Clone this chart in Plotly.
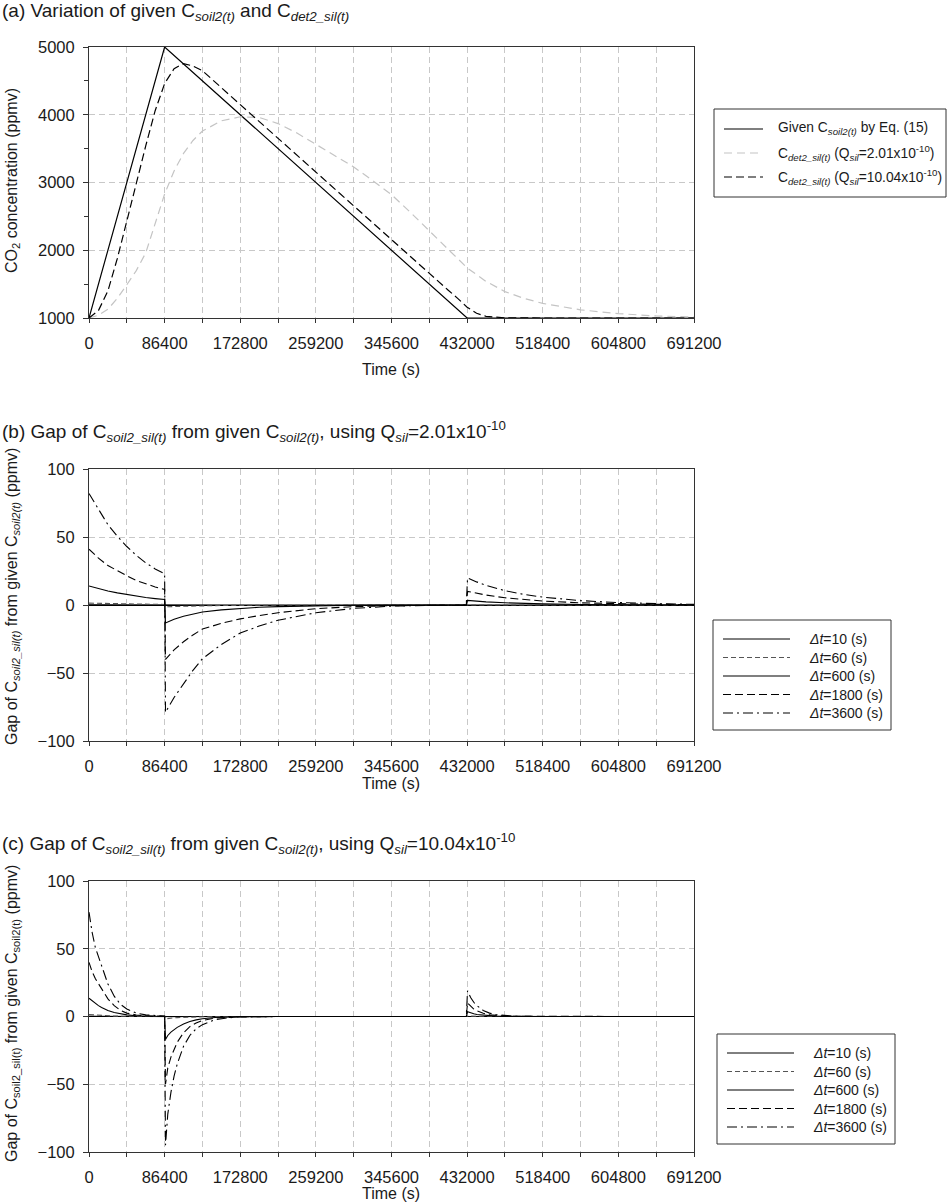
import plotly.graph_objects as go

# ---------------- data ----------------
X_TICKS = [0, 86400, 172800, 259200, 345600, 432000, 518400, 604800, 691200]

# (a) concentrations (ppmv)
T_GIVEN = [0, 86400, 432000, 691200]
C_GIVEN = [1000, 5000, 1000, 1000]

T_Q201 = [0, 10800, 21600, 32400, 43200, 54000, 64800, 75600, 86400, 97200,
          108000, 118800, 129600, 151200, 172800, 194400, 216000, 237600, 259200, 280800,
          302400, 324000, 345600, 367200, 388800, 410400, 432000, 453600, 475200,
          496800, 518400, 561600, 604800, 648000, 691200]
C_Q201 = [1000, 1040, 1130, 1290, 1490, 1700, 1960, 2400, 2830, 3170,
          3430, 3620, 3760, 3910, 3970, 3960, 3870, 3730, 3560, 3400,
          3230, 3030, 2820, 2560, 2290, 2010, 1740, 1540, 1390,
          1290, 1215, 1120, 1065, 1030, 1015]

T_Q1004 = [0, 10800, 21600, 32400, 43200, 54000, 64800, 75600, 86400, 97200,
           108000, 118800, 129600, 172800, 259200, 345600, 388800, 410400, 421200, 432000,
           442800, 453600, 475200, 518400, 691200]
C_Q1004 = [1000, 1110, 1400, 1880, 2430, 2990, 3540, 4060, 4460, 4680,
           4755, 4720, 4650, 4150, 3150, 2150, 1650, 1410, 1290, 1160,
           1070, 1025, 1003, 1000, 1000]

# (b) gap, Q_sil = 2.01e-10
T_B = [0, 10800, 21600, 32400, 43200, 54000, 64800, 75600, 86400,
       87400, 97200, 108000, 118800, 129600, 151200, 172800, 194400, 216000,
       259200, 302400, 345600, 388800, 431000,
       432500, 442800, 453600, 475200, 496800, 518400, 561600, 604800, 648000, 691200]
B_10 = [0.23, 0.2, 0.17, 0.15, 0.13, 0.11, 0.09, 0.08, 0.07,
        -0.23, -0.18, -0.14, -0.11, -0.09, -0.06, -0.04, -0.03, -0.02,
        -0.01, 0, 0, 0, 0,
        0.06, 0.05, 0.04, 0.03, 0.02, 0.01, 0.01, 0, 0, 0]
B_60 = [1.4, 1.2, 1.03, 0.89, 0.76, 0.65, 0.55, 0.47, 0.4,
        -1.4, -1.1, -0.85, -0.67, -0.53, -0.36, -0.25, -0.17, -0.12,
        -0.05, -0.02, -0.01, 0, 0,
        0.35, 0.28, 0.23, 0.16, 0.11, 0.08, 0.04, 0.02, 0.01, 0]
B_600 = [14, 12, 10.3, 8.9, 7.6, 6.5, 5.5, 4.7, 4,
         -13.2, -10.5, -8.3, -6.6, -5.2, -3.6, -2.5, -1.7, -1.2,
         -0.5, -0.2, -0.1, 0, 0,
         3.4, 2.8, 2.3, 1.6, 1.1, 0.8, 0.4, 0.2, 0.1, 0.05]
B_1800 = [41, 34.5, 29, 25, 21.5, 18, 15.5, 13.3, 11.5,
          -40, -33, -27, -22, -17.7, -13.5, -10.2, -7.8, -5.7,
          -2.7, -1.2, -0.5, -0.2, -0.1,
          10, 8.5, 7.3, 5.3, 3.9, 2.9, 1.6, 0.9, 0.5, 0.25]
B_3600 = [82, 70, 59, 50.5, 43, 36.5, 31, 26.5, 23,
          -79, -68, -58, -48, -39.5, -29, -20.6, -15.5, -11.2,
          -5.7, -2.5, -0.8, -0.3, -0.1,
          20, 17, 14.5, 10.5, 7.8, 5.8, 3.2, 1.8, 1.0, 0.5]

# (c) gap, Q_sil = 10.04e-10
T_C = [0, 3600, 7200, 10800, 14400, 21600, 28800, 36000, 43200, 54000, 64800, 75600, 86400,
       87400, 90000, 93600, 97200, 100800, 108000, 115200, 122400, 129600, 144000, 158400,
       172800, 216000, 431000,
       432500, 436000, 439600, 443200, 450400, 457600, 464800, 475200, 486000, 518400, 691200]
C_10 = [0.23, 0.2, 0.17, 0.14, 0.12, 0.08, 0.05, 0.03, 0.02, 0.01, 0, 0, 0,
        -0.3, -0.24, -0.2, -0.16, -0.13, -0.09, -0.06, -0.04, -0.03, -0.01, 0,
        0, 0, 0,
        0.06, 0.05, 0.04, 0.03, 0.02, 0.01, 0, 0, 0, 0, 0]
C_60 = [1.4, 1.2, 1, 0.85, 0.7, 0.46, 0.3, 0.2, 0.12, 0.06, 0.03, 0.01, 0,
        -1.7, -1.4, -1.15, -0.95, -0.8, -0.55, -0.37, -0.25, -0.17, -0.07, -0.03,
        -0.01, 0, 0,
        0.35, 0.26, 0.2, 0.15, 0.09, 0.05, 0.03, 0.01, 0, 0, 0]
C_600 = [13.5, 11.5, 9.8, 8, 6.7, 4.4, 2.9, 1.9, 1.2, 0.6, 0.3, 0.1, 0.05,
         -17, -14, -11.5, -9.5, -8, -5.5, -3.7, -2.5, -1.7, -0.7, -0.3,
         -0.1, 0, 0,
         3.5, 2.6, 2, 1.5, 0.9, 0.5, 0.25, 0.1, 0, 0, 0]
C_1800 = [40, 33, 28, 24, 20, 13, 8, 4.5, 2.5, 1.1, 0.5, 0.2, 0.1,
          -50, -38, -30, -24, -19, -12, -7.5, -4.8, -3, -1.2, -0.5,
          -0.2, 0, 0,
          10, 7.5, 5.5, 4.2, 2.4, 1.3, 0.7, 0.3, 0.1, 0, 0]
C_3600 = [77, 62, 51, 44, 37, 24, 15, 9, 5.5, 2.5, 1.2, 0.5, 0.3,
          -95, -72, -56, -44, -35, -22, -14, -9, -6, -2.4, -1,
          -0.4, 0, 0,
          19, 14, 10.5, 8, 4.5, 2.5, 1.4, 0.6, 0.2, 0, 0]

DT_LABELS = ["10", "60", "600", "1800", "3600"]

# ---------------- styling ----------------
W, H = 949, 1204
FONT = "Liberation Sans, Arial, sans-serif"
INK = "#1a1a1a"
GRID = "#c8c8c8"
AX = "#333333"


# page pixels -> paper fractions (margins are zero, automargin off)
def px(x):
    return x / W


def py(y):
    return 1 - y / H


X_DOM = [px(89), px(694)]
Y_DOM = {"a": [py(318), py(47)], "b": [py(741), py(469)], "c": [py(1152), py(881)]}

STYLE_GIVEN = dict(color="black", width=1.2)
STYLE_Q201 = dict(color="#c4c4c4", width=1.2, dash="8px,5px")
STYLE_Q1004 = dict(color="black", width=1.2, dash="8px,4px")
DT_STYLES = [
    dict(color="black", width=1.0),
    dict(color="#555555", width=1.1, dash="5px,3px"),
    dict(color="black", width=1.1),
    dict(color="black", width=1.1, dash="8px,4px"),
    dict(color="black", width=1.1, dash="10px,4px,2px,4px"),
]

fig = go.Figure()

fig.add_trace(go.Scatter(x=T_GIVEN, y=C_GIVEN, mode="lines", line=STYLE_GIVEN,
                         xaxis="x", yaxis="y", showlegend=False))
fig.add_trace(go.Scatter(x=T_Q201, y=C_Q201, mode="lines", line=STYLE_Q201,
                         xaxis="x", yaxis="y", showlegend=False))
fig.add_trace(go.Scatter(x=T_Q1004, y=C_Q1004, mode="lines", line=STYLE_Q1004,
                         xaxis="x", yaxis="y", showlegend=False))

for ys, st in zip([B_10, B_60, B_600, B_1800, B_3600], DT_STYLES):
    fig.add_trace(go.Scatter(x=T_B, y=ys, mode="lines", line=st,
                             xaxis="x2", yaxis="y2", showlegend=False))
for ys, st in zip([C_10, C_60, C_600, C_1800, C_3600], DT_STYLES):
    fig.add_trace(go.Scatter(x=T_C, y=ys, mode="lines", line=st,
                             xaxis="x3", yaxis="y3", showlegend=False))

tickfont = dict(family=FONT, size=16.5, color=INK)


def x_axis(anchor):
    return dict(
        domain=X_DOM, anchor=anchor, range=[0, 691200],
        tickmode="array", tickvals=X_TICKS, ticktext=[str(v) for v in X_TICKS],
        ticks="outside", ticklen=4, tickcolor=AX, tickfont=tickfont,
        ticklabelstandoff=6,
        showline=True, linecolor=AX, linewidth=1, mirror=True,
        showgrid=True, gridcolor=GRID, gridwidth=1, griddash="6px,4px",
        zeroline=False, automargin=False,
        minor=dict(dtick=43200, tick0=0, ticks="outside", ticklen=4, tickcolor=AX,
                   showgrid=True, gridcolor=GRID, gridwidth=1, griddash="6px,4px"),
    )


def y_axis(anchor, dom, rng, dtick, minor_dtick=None, zero=False):
    d = dict(
        domain=dom, anchor=anchor, range=rng, tick0=0, dtick=dtick,
        ticks="outside", ticklen=5, tickcolor=AX, tickfont=tickfont,
        ticklabelstandoff=5,
        showline=True, linecolor=AX, linewidth=1, mirror=True,
        showgrid=True, gridcolor=GRID, gridwidth=1, griddash="6px,4px",
        zeroline=zero, zerolinecolor="black", zerolinewidth=1, automargin=False,
    )
    if minor_dtick:
        d["minor"] = dict(dtick=minor_dtick, tick0=0, ticks="outside", ticklen=4,
                          tickcolor=AX, showgrid=False)
    return d


fig.update_layout(
    width=W, height=H,
    margin=dict(l=0, r=0, t=0, b=0),
    paper_bgcolor="white", plot_bgcolor="white",
    font=dict(family=FONT, color=INK),
    showlegend=False,
    xaxis=x_axis("y"),
    yaxis=y_axis("x", Y_DOM["a"], [1000, 5000], 1000, 500),
    xaxis2=x_axis("y2"),
    yaxis2=y_axis("x2", Y_DOM["b"], [-100, 100], 50, zero=True),
    xaxis3=x_axis("y3"),
    yaxis3=y_axis("x3", Y_DOM["c"], [-100, 100], 50, zero=True),
)

ann = []


def text(x, y, s, size, xanchor="left", angle=0):
    ann.append(dict(x=px(x), y=py(y), xref="paper", yref="paper", text=s,
                    showarrow=False, xanchor=xanchor, yanchor="middle",
                    textangle=angle, font=dict(family=FONT, size=size, color=INK)))


# panel titles
text(0, 12, "(a) Variation of given C<sub><i>soil2(t)</i></sub> and C<sub><i>det2_sil(t)</i></sub>", 19)
text(0, 431, "(b) Gap of C<sub><i>soil2_sil(t)</i></sub> from given C<sub><i>soil2(t)</i></sub>, "
     "using Q<sub><i>sil</i></sub>=2.01x10<sup>-10</sup>", 19)
text(0, 843, "(c) Gap of C<sub><i>soil2_sil(t)</i></sub> from given C<sub><i>soil2(t)</i></sub>, "
     "using Q<sub><i>sil</i></sub>=10.04x10<sup>-10</sup>", 19)

# axis titles
text(391, 369, "Time (s)", 16, xanchor="center")
text(391, 783, "Time (s)", 16, xanchor="center")
text(391, 1193, "Time (s)", 16, xanchor="center")
text(12, 181, "CO<sub>2</sub> concentration (ppmv)", 16, xanchor="center", angle=-90)
text(12, 597, "Gap of C<sub><i>soil2_sil(t)</i></sub> from given C<sub><i>soil2(t)</i></sub> (ppmv)",
     16, xanchor="center", angle=-90)
text(12, 1014, "Gap of C<sub>soil2_sil(t)</sub> from given C<sub>soil2(t)</sub> (ppmv)",
     16, xanchor="center", angle=-90)

shapes = []


def legend_box(x0, y0, x1, y1):
    shapes.append(dict(type="rect", xref="paper", yref="paper",
                       x0=px(x0), x1=px(x1), y0=py(y1), y1=py(y0),
                       line=dict(color=AX, width=1), fillcolor="white", layer="above"))


def legend_row(lx0, lx1, tx, y, style, label, size=14):
    shapes.append(dict(type="line", xref="paper", yref="paper",
                       x0=px(lx0), x1=px(lx1), y0=py(y), y1=py(y),
                       line=style, layer="above"))
    text(tx, y, label, size)


# legend (a)
legend_box(714, 109, 946, 197)
legend_rows_a = [
    (STYLE_GIVEN, "Given C<sub><i>soil2(t)</i></sub> by Eq. (15)"),
    (STYLE_Q201, "C<sub><i>det2_sil(t)</i></sub> (Q<sub><i>sil</i></sub>=2.01x10<sup>-10</sup>)"),
    (STYLE_Q1004, "C<sub><i>det2_sil(t)</i></sub> (Q<sub><i>sil</i></sub>=10.04x10<sup>-10</sup>)"),
]
for i, (st, lab) in enumerate(legend_rows_a):
    legend_row(724, 763, 776, 129 + 24 * i, st, lab, size=13.8)

# legends (b) and (c)
for bx, by in [(713, 620), (717, 1034)]:
    legend_box(bx, by, bx + 178, by + 110)
    for i, (st, lab) in enumerate(zip(DT_STYLES, DT_LABELS)):
        legend_row(bx + 10, bx + 77, bx + 94, by + 19 + 18.5 * i, st,
                   "<i>Δt</i>=" + lab + " (s)")

fig.update_layout(annotations=ann, shapes=shapes)

fig.write_html(
    "out.html",
    config={"displayModeBar": False},
    post_script="document.body.style.margin='0px';",
)
